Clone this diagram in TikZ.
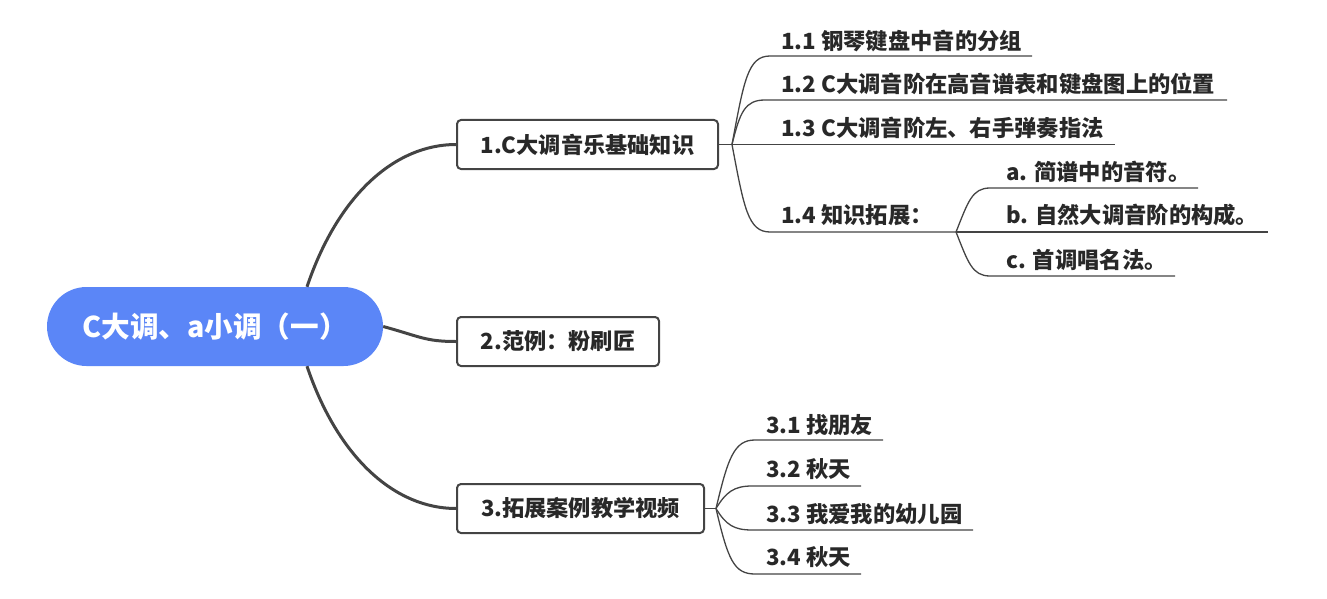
\documentclass[tikz,border=0pt]{standalone}
\usepackage{fontspec}
\setmainfont{Noto Sans CJK SC}
\definecolor{pillc}{RGB}{91,134,247}
\definecolor{ln}{RGB}{68,68,68}
\definecolor{txt}{RGB}{40,40,40}
\begin{document}
\begin{tikzpicture}[x=1pt,y=-1pt,
  topic/.style={draw=ln, line width=2pt, rounded corners=4pt, fill=white, text=txt,
    font=\bfseries\fontsize{22.2}{26}\selectfont, minimum height=49pt, inner xsep=0pt, anchor=center},
  sub/.style={text=txt, font=\bfseries\fontsize{22.3}{26}\selectfont, anchor=west, inner sep=0pt},
  mainln/.style={draw=ln, line width=3pt},
  thinln/.style={draw=ln, line width=1.3pt}]
\useasboundingbox (0,0) rectangle (1327,599);

% root
\node[fill=pillc, rounded corners=39.5pt, minimum width=336pt, minimum height=79pt,
  inner sep=0pt, text=white, font=\bfseries\fontsize{28.6}{32}\selectfont] (root) at (215,326.5) {C大调、a小调（一）};

% topics
\node[topic, minimum width=261pt] (n1) at (587.5,144.5) {1.C大调音乐基础知识};
\node[topic, minimum width=202pt] (n2) at (558,341.5) {2.范例：粉刷匠};
\node[topic, minimum width=247pt] (n3) at (580.5,508.5) {3.拓展案例教学视频};

% main connectors
\draw[mainln] ([xshift=92pt]root.north) .. controls (338,195) and (395,144.5) .. (n1.west);
\draw[mainln] (root.east) .. controls (420,336.5) and (425,341.5) .. (n2.west);
\draw[mainln] ([xshift=92pt]root.south) .. controls (338,458) and (395,508.5) .. (n3.west);

% junctions
\coordinate (j1) at (732,144.5);
\coordinate (j14) at (956,232);
\coordinate (j3) at (716,508.5);

% sub labels of topic 1
\node[sub] (s11) at (781,41) {1.1 钢琴键盘中音的分组};
\node[sub] (s12) at (781,84) {1.2 C大调音阶在高音谱表和键盘图上的位置};
\node[sub] (s13) at (781,128) {1.3 C大调音阶左、右手弹奏指法};
\node[sub] (s14) at (781,215) {1.4 知识拓展：};
\node[sub] (sa) at (1006,172) {a. 简谱中的音符。};
\node[sub] (sb) at (1006,215) {b. 自然大调音阶的构成。};
\node[sub] (sc) at (1006,260) {c. 首调唱名法。};

% sub labels of topic 3
\node[sub] (s31) at (766,425) {3.1 找朋友};
\node[sub] (s32) at (766,469) {3.2 秋天};
\node[sub] (s33) at (766,514) {3.3 我爱我的幼儿园};
\node[sub] (s34) at (766,557) {3.4 秋天};

% thin connectors topic 1
\draw[thinln] (n1.east) -- (j1);
\draw[thinln] (j1) .. controls (744,80) and (748,56) .. (770,56) -- (1032,56);
\draw[thinln] (j1) .. controls (740,112) and (745,100) .. (765,100) -- (1227,100);
\draw[thinln] (j1) -- (1115,144.5);
\draw[thinln] (j1) .. controls (744,208) and (748,232) .. (770,232) -- (j14);
\draw[thinln] (j14) .. controls (968,202) and (972,188) .. (990,188) -- (1198,188);
\draw[thinln] (j14) -- (1268,232);
\draw[thinln] (j14) .. controls (968,262) and (972,276) .. (990,276) -- (1175,276);

% thin connectors topic 3
\draw[thinln] (n3.east) -- (j3);
\draw[thinln] (j3) .. controls (728,458) and (734,440) .. (755,440) -- (883,440);
\draw[thinln] (j3) .. controls (726,492) and (734,486) .. (752,486) -- (861,486);
\draw[thinln] (j3) .. controls (726,525) and (734,530) .. (752,530) -- (973,530);
\draw[thinln] (j3) .. controls (728,560) and (734,574) .. (755,574) -- (861,574);
\end{tikzpicture}
\end{document}
